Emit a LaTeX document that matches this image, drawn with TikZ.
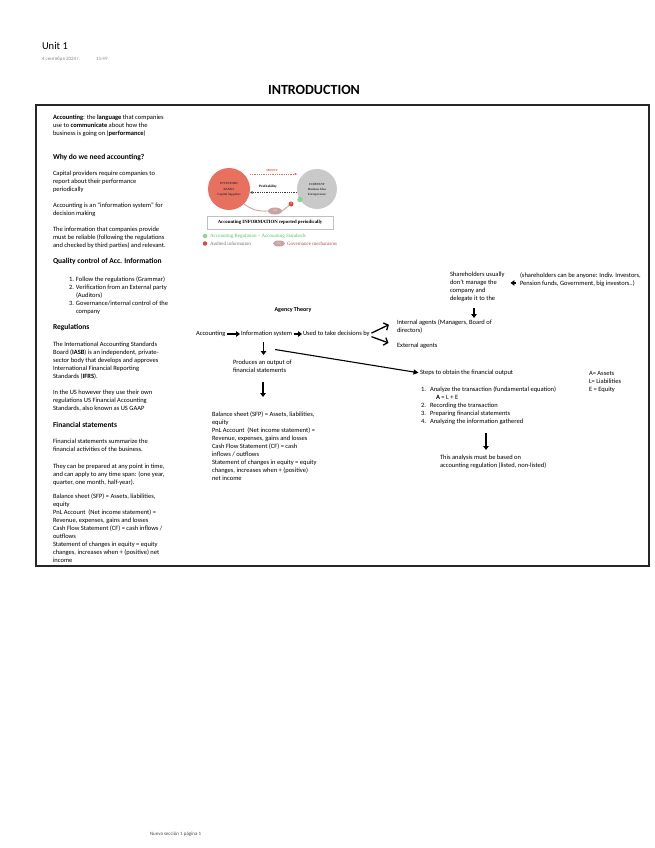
\documentclass[tikz,border=0pt]{standalone}
\usepackage{fontspec}
\setmainfont{Carlito}
\newfontfamily\picserif{Liberation Serif}
\usetikzlibrary{arrows.meta,calc,shapes.geometric}
\definecolor{coral}{HTML}{E8705F}
\definecolor{greyc}{HTML}{C9C9C9}
\definecolor{cgpink}{HTML}{C8A5A5}
\definecolor{okgreen}{HTML}{86D98A}
\definecolor{legreen}{HTML}{55C060}
\definecolor{xred}{HTML}{E0483A}
\definecolor{govred}{HTML}{A84E4E}
\definecolor{dategray}{HTML}{8C8C8C}
\tikzset{
  txt/.style={font=\fontsize{6.5}{8}\selectfont, align=left, anchor=north west},
  txtw/.style={font=\fontsize{6.5}{8}\selectfont, anchor=west},
  head/.style={font=\fontsize{7.5}{9}\selectfont\bfseries, anchor=north west},
  arr/.style={line width=1.3pt, -{Triangle[length=4pt,width=5.5pt]}},
  barb/.style={line width=1.3pt, -{Straight Barb[length=3.5pt,width=8pt]}},
  longarr/.style={line width=1.1pt, -{Triangle[length=5pt,width=5pt]}},
  pictxt/.style={font=\picserif\bfseries\fontsize{3.1}{5.3}\selectfont, align=center, text=black!80},
  legtxt/.style={font=\picserif\fontsize{5}{6}\selectfont, anchor=west},
}
\begin{document}
\begin{tikzpicture}[x=1pt,y=-1pt, every node/.style={inner sep=0pt, outer sep=0pt}]
\useasboundingbox (0,0) rectangle (654,848);
\fill[white] (0,0) rectangle (654,848);

% header
\node[font=\fontsize{10.5}{12}\selectfont, anchor=west] (unit) at (42,46) {Unit 1};
\node[font=\fontsize{5}{6}\selectfont, text=dategray, anchor=west] (date) at (42,59) {4 сентября 2024 г.\hspace{16pt}11:49};
\node[font=\fontsize{14}{16}\selectfont\bfseries] (title) at (314,90) {INTRODUCTION};

% frame
\draw[line width=1.6pt, black!85] (36,105) rectangle (649,566);

% left column
\node[txt] (l1) at (53,114.5) {\textbf{Accounting}: the \textbf{language} that companies\\use to \textbf{communicate} about how the\\business is going on (\textbf{performance})};
\node[head] (h1) at (53,154.5) {Why do we need accounting?};
\node[txt] (l2) at (53,170.5) {Capital providers require companies to\\report about their performance\\periodically};
\node[txt] (l3) at (53,202.5) {Accounting is an “information system” for\\decision making};
\node[txt] (l4) at (53,226.5) {The information that companies provide\\must be reliable (following the regulations\\and checked by third parties) and relevant.};
\node[head] (h2) at (53,258.5) {Quality control of Acc. Information};
\node[txt] (q1) at (69,276.5) {\makebox[7pt][l]{1.}Follow the regulations (Grammar)\\\makebox[7pt][l]{2.}Verification from an External party\\\hspace*{7pt}(Auditors)\\\makebox[7pt][l]{3.}Governance/internal control of the\\\hspace*{7pt}company};
\node[head] (h3) at (53,324.5) {Regulations};
\node[txt] (l5) at (53,341.5) {The International Accounting Standards\\Board (\textbf{IASB}) is an independent, private-\\sector body that develops and approves\\International Financial Reporting\\Standards (\textbf{IFRS}).};
\node[txt] (l6) at (53,389.5) {In the US however they use their own\\regulations US Financial Accounting\\Standards, also known as US GAAP};
\node[head] (h4) at (53,422.5) {Financial statements};
\node[txt] (l7) at (53,438.5) {Financial statements summarize the\\financial activities of the business.};
\node[txt] (l8) at (53,463.5) {They can be prepared at any point in time,\\and can apply to any time span: (one year,\\quarter, one month, half-year).};
\node[txt] (l9) at (53,494) {Balance sheet (SFP) = Assets, liabilities,\\equity\\PnL Account\ \ (Net income statement) =\\Revenue, expenses, gains and losses\\Cash Flow Statement (CF) = cash inflows /\\outflows\\Statement of changes in equity = equity\\changes, increases when + (positive) net\\income};

% embedded picture
\node[circle, fill=coral, minimum size=42pt] (redc) at (229,189) {};
\node[circle, fill=greyc, minimum size=40pt] (grayc) at (317,189) {};
\node[pictxt] (redt) at (229,189.5) {INVESTORS\\BANKS\\Capital Suppliers};
\node[pictxt] (grayt) at (317,190) {COMPANY\\Business Idea\\Entrepreneur};
\draw[xred!80, densely dotted, line width=0.8pt, -{Triangle[length=2.5pt,width=2.5pt]}] ([yshift=15pt]redc.east) -- ([yshift=15pt]grayc.west);
\node[font=\picserif\bfseries\fontsize{3}{3.5}\selectfont, text=xred] (money) at (272,170.5) {MONEY};
\node[font=\picserif\bfseries\fontsize{3.4}{4}\selectfont] (profit) at (268,187) {Profitability};
\draw[black!75, densely dotted, line width=0.8pt, -{Triangle[length=2.5pt,width=2.5pt]}] ([yshift=-3.5pt]grayc.west) -- ([yshift=-3.5pt]redc.east);
\node[ellipse, fill=cgpink, minimum width=14pt, minimum height=7pt, font=\picserif\fontsize{2.8}{3}\selectfont, text=white] (cg) at (275,211) {CG};
\node[circle, fill=xred, minimum size=5pt, font=\fontsize{3}{3}\selectfont, text=white] (xc) at (291,204) {x};
\node[circle, fill=okgreen, minimum size=5.5pt] (gc) at (300,199.5) {};
\draw[cgpink, line width=0.9pt] (redc.south east) to[bend right=20] (cg.west);
\draw[cgpink, line width=0.9pt] (cg.east) -- (xc);
\node[draw=black!25, line width=0.5pt, minimum width=126pt, minimum height=13pt, font=\picserif\bfseries\fontsize{4.8}{5}\selectfont] (box) at (270,222.5) {Accounting INFORMATION reported periodically};
\node[circle, fill=okgreen, minimum size=4.5pt] (lg1) at (205,236) {};
\node[legtxt, text=legreen] (lt1) at (210,236) {Accounting Regulation – Accounting Standards};
\node[circle, fill=xred, minimum size=4.5pt] (lg2) at (205,243.5) {};
\node[legtxt, text=black!55] (lt2) at (210,243.5) {Audited information};
\node[ellipse, fill=cgpink, minimum width=12pt, minimum height=6pt, font=\picserif\fontsize{2.6}{3}\selectfont, text=white] (lg3) at (279,243.5) {CG};
\node[legtxt, text=govred] (lt3) at (287,243.5) {Governance mechanisms};

% middle diagram
\node[font=\fontsize{6}{7}\selectfont\bfseries] (agency) at (293,310) {Agency Theory};
\node[txtw] (acc) at (196,334) {Accounting};
\node[txtw] (info) at (241,334) {Information system};
\node[txtw] (dec) at (303,334) {Used to take decisions by};
\node[txt] (int) at (397,320) {Internal agents (Managers, Board of\\directors)};
\node[txtw] (ext) at (397,346) {External agents};
\node[txt] (prod) at (233,360) {Produces an output of\\financial statements};
\node[txt] (bal) at (212,412) {Balance sheet (SFP) = Assets, liabilities,\\equity\\PnL Account\ \ (Net income statement) =\\Revenue, expenses, gains and losses\\Cash Flow Statement (CF) = cash\\inflows / outflows\\Statement of changes in equity = equity\\changes, increases when + (positive)\\net income};
\node[txt] (share) at (450,272) {Shareholders usually\\don’t manage the\\company and\\delegate it to the};
\node[txt] (paren) at (520,273) {(shareholders can be anyone: Indiv. Investors,\\Pension funds, Government, big investors..)};
\node[txtw] (steps) at (420,373) {Steps to obtain the financial output};
\node[txt] (list2) at (421,387) {\makebox[9pt][l]{1.}Analyze the transaction (fundamental equation)\\\hspace*{15pt}\textbf{A} = L + E\\\makebox[9pt][l]{2.}Recording the transaction\\\makebox[9pt][l]{3.}Preparing financial statements\\\makebox[9pt][l]{4.}Analyzing the information gathered};
\node[txt] (ana) at (440,455) {This analysis must be based on\\accounting regulation (listed, non-listed)};
\node[txt] (ale) at (589,371) {A= Assets\\L= Liabilities\\E = Equity};
\coordinate (longstart) at (275,349.5);

\draw[arr, shorten <=1.5pt, shorten >=1pt] (acc) -- (info);
\draw[arr, shorten <=1.5pt, shorten >=1pt] (info) -- (dec);
\draw[barb, shorten <=2pt, shorten >=9pt] (dec.east) -- ([yshift=6pt]int.west);
\draw[barb, shorten <=2pt, shorten >=9pt] ([yshift=-2pt]dec.east) -- (ext.west);
\draw[arr, shorten <=5pt, shorten >=5pt] ([xshift=-3pt]info.south) -- ([xshift=-3pt]info.south |- prod.north);
\draw[longarr, shorten >=1.5pt] (longstart) -- (steps.west);
\draw[arr, shorten <=9pt, shorten >=15pt] (prod.south -| 263,0) -- (bal.north -| 263,0);
\draw[arr, shorten <=4pt, shorten >=6pt] ([yshift=-3pt]paren.west) -- ([yshift=-3pt]paren.west -| share.east);
\draw[arr, shorten <=6pt, shorten >=2pt] (share.south -| 474,0) -- (int.north -| 474,0);
\draw[arr, shorten <=8pt, shorten >=5pt] (list2.south -| 486,0) -- (ana.north -| 486,0);

% footer
\node[font=\fontsize{5}{6}\selectfont, text=black!70, anchor=west] (foot) at (150,834) {Nueva sección 1 página 1};
\end{tikzpicture}
\end{document}
